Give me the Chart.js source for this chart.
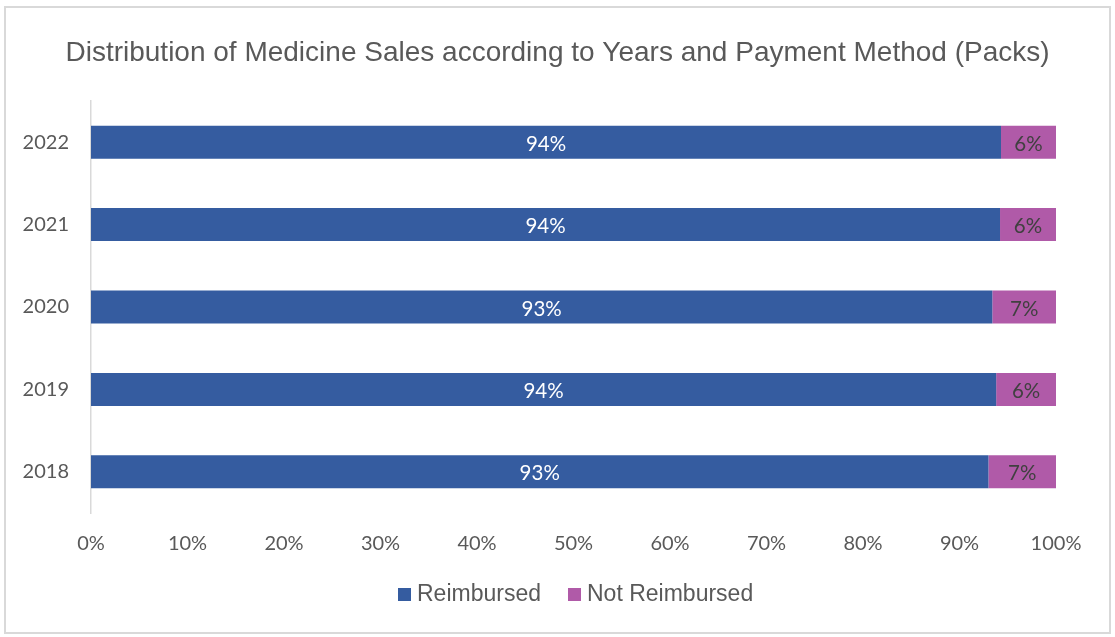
<!DOCTYPE html>
<html>
<head>
<meta charset="utf-8">
<script src="https://cdn.jsdelivr.net/npm/chart.js@4.4.0/dist/chart.umd.min.js"></script>
<style>
  html, body { margin: 0; padding: 0; background: #fff; }
  #wrap { position: relative; width: 1115px; height: 637px; }
  #frame { position: absolute; left: 4px; top: 6px; width: 1107px; height: 628px;
           box-sizing: border-box; border: 2px solid #d9d9d9; pointer-events: none; }
</style>
</head>
<body>
<div id="wrap">
  <canvas id="myChart" width="1115" height="637"></canvas>
  <div id="frame"></div>
</div>
<script>
const years = ['2018', '2019', '2020', '2021', '2022'];
const reimbursed = [93.0, 93.8, 93.4, 94.2, 94.3];
const notReimbursed = [7.0, 6.2, 6.6, 5.8, 5.7];
const xTicks = [0, 10, 20, 30, 40, 50, 60, 70, 80, 90, 100];

const BLUE = '#355ca0';
const PINK = '#b05aa8';

// values written on the bars
const barLabels = {
  id: 'barLabels',
  afterDatasetsDraw(chart) {
    const ctx = chart.ctx;
    ctx.save();
    ctx.font = '20.5px Lato, "Open Sans", sans-serif';
    ctx.textAlign = 'center';
    ctx.textBaseline = 'middle';
    chart.data.datasets.forEach((ds, i) => {
      chart.getDatasetMeta(i).data.forEach((bar, j) => {
        ctx.fillStyle = i === 0 ? '#ffffff' : '#404040';
        ctx.fillText(Math.round(ds.data[j]) + '%', (bar.base + bar.x) / 2, bar.y + 2);
      });
    });
    ctx.restore();
  }
};

// legend under the axis, drawn by hand to get the spacing right
const bottomLegend = {
  id: 'bottomLegend',
  afterDraw(chart) {
    const ctx = chart.ctx;
    ctx.save();
    ctx.font = '23px "Liberation Sans", Arial, sans-serif';
    ctx.textBaseline = 'middle';
    let x = 398;
    const y = 595;
    chart.data.datasets.forEach((ds, i) => {
      ctx.fillStyle = ds.backgroundColor;
      ctx.fillRect(x, y - 7, 13, 13);
      x += 19;
      ctx.fillStyle = '#595959';
      ctx.fillText(ds.label, x, y);
      x += ctx.measureText(ds.label).width + 27;
    });
    ctx.restore();
  }
};

const myChartRef = document.getElementById('myChart').getContext('2d');

new Chart(myChartRef, {
  type: 'bar',
  data: {
    labels: years,
    datasets: [
      { label: 'Reimbursed', data: reimbursed, backgroundColor: BLUE, borderWidth: 0 },
      { label: 'Not Reimbursed', data: notReimbursed, backgroundColor: PINK, borderWidth: 0 }
    ]
  },
  options: {
    indexAxis: 'y',
    responsive: false,
    animation: false,
    layout: { padding: { left: 0, right: 0, top: 0, bottom: 70 } },
    datasets: { bar: { categoryPercentage: 1, barPercentage: 0.4 } },
    scales: {
      x: {
        stacked: true,
        min: 0,
        max: 100,
        afterBuildTicks: (s) => { s.ticks = xTicks.map(v => ({ value: v })); },
        afterFit: (s) => { s.height = 54; },
        grid: { display: false, drawTicks: false },
        border: { display: false },
        ticks: {
          padding: 19,
          color: '#595959',
          font: { family: 'Lato, "Open Sans", sans-serif', size: 20 },
          callback: (v) => v + '%'
        }
      },
      y: {
        stacked: true,
        reverse: true,
        afterFit: (s) => { s.width = 91; },
        grid: { display: false, drawTicks: false },
        border: { display: true, color: '#d9d9d9', width: 1.5 },
        ticks: {
          padding: 22,
          color: '#595959',
          font: { family: 'Lato, "Open Sans", sans-serif', size: 20 }
        }
      },
      // empty right margin so the title stays centred on the whole canvas
      yRight: {
        type: 'linear',
        position: 'right',
        afterFit: (s) => { s.width = 59; },
        grid: { display: false, drawTicks: false },
        border: { display: false },
        ticks: { display: false }
      }
    },
    plugins: {
      legend: { display: false },
      tooltip: { enabled: false },
      title: {
        display: true,
        text: 'Distribution of Medicine Sales according to Years and Payment Method (Packs)',
        color: '#595959',
        font: { family: '"Liberation Sans", Arial, sans-serif', size: 28, weight: 'normal' },
        padding: { top: 36, bottom: 31.4 }
      }
    }
  },
  plugins: [barLabels, bottomLegend]
});
</script>
</body>
</html>
